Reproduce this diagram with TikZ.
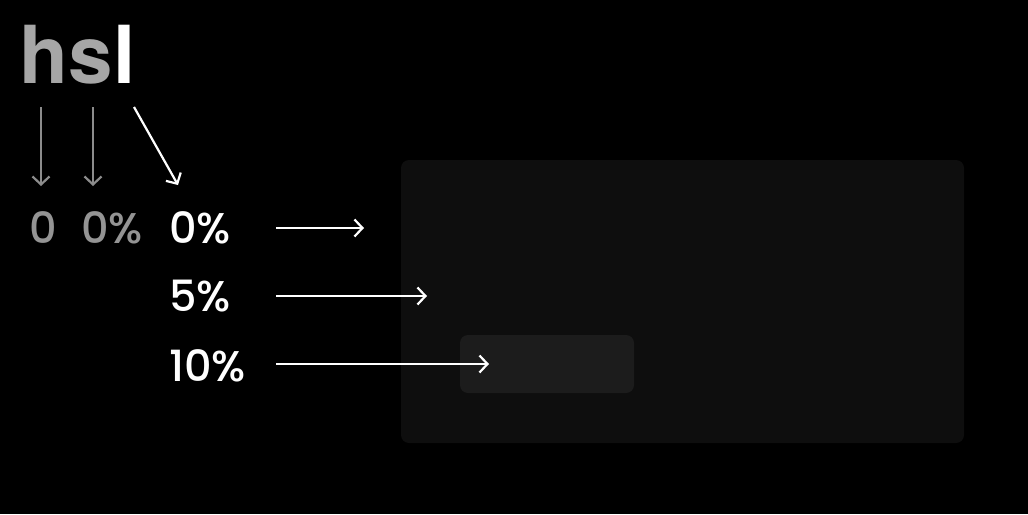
\documentclass[tikz,border=0pt]{standalone}
\usepackage{fontspec}
\usetikzlibrary{arrows.meta}
\newfontfamily\titlefont{TeX Gyre Heros}
\newfontfamily\numfont{Poppins}[UprightFont={* Medium}]
\definecolor{bgblack}{HTML}{000000}
\definecolor{panel}{HTML}{0E0E0E}
\definecolor{chip}{HTML}{1C1C1C}
\definecolor{dimtext}{HTML}{A6A6A6}
\definecolor{dimnum}{HTML}{949494}
\definecolor{dimarrow}{HTML}{8C8C8C}
\tikzset{
  title/.style={inner sep=0pt, anchor=base west, font=\titlefont\bfseries\fontsize{80}{80}\selectfont},
  num/.style={inner sep=0pt, anchor=base west, font=\numfont\fontsize{43}{43}\selectfont},
  conn/.style={line width=2.2pt, -{Straight Barb[length=8pt,width=17pt,line width=2.2pt]}},
}
\begin{document}
\begin{tikzpicture}[x=1pt,y=-1pt]
\fill[bgblack] (0,0) rectangle (1028,514);
\useasboundingbox (0,0) rectangle (1028,514);
% panels
\fill[panel, rounded corners=8pt] (401,160) rectangle (964,443);
\fill[chip, rounded corners=8pt] (460,335) rectangle (634,393);
% title
\node[title, text=dimtext] (hh) at (19,83) {h};
\node[title, text=dimtext] (ss) at (hh.base east) {s};
\node[title, text=white] (ll) at (ss.base east) {l};
% numbers
\node[num, text=dimnum] (n0) at (29,243) {0};
\node[num, text=dimnum] (n1) at (81,243) {0\%};
\node[num, text=white] (r0) at (169,243) {0\%};
\node[num, text=white] (r5) at (169,311) {5\%};
\node[num, text=white] (r10) at (169,381) {10\%};
% arrow endpoints
\coordinate (a0s) at (41,107);  \coordinate (a0e) at (41,186);
\coordinate (a1s) at (93,107);  \coordinate (a1e) at (93,186);
\coordinate (a2s) at (134,107); \coordinate (a2e) at (178,185);
\coordinate (b0s) at (276,228); \coordinate (b0e) at (364,228);
\coordinate (b1s) at (276,296); \coordinate (b1e) at (427,296);
\coordinate (b2s) at (276,364); \coordinate (b2e) at (489,364);
\draw[conn, dimarrow] (a0s) -- (a0e);
\draw[conn, dimarrow] (a1s) -- (a1e);
\draw[conn, white] (a2s) -- (a2e);
\draw[conn, white] (b0s) -- (b0e);
\draw[conn, white] (b1s) -- (b1e);
\draw[conn, white] (b2s) -- (b2e);
\end{tikzpicture}
\end{document}
